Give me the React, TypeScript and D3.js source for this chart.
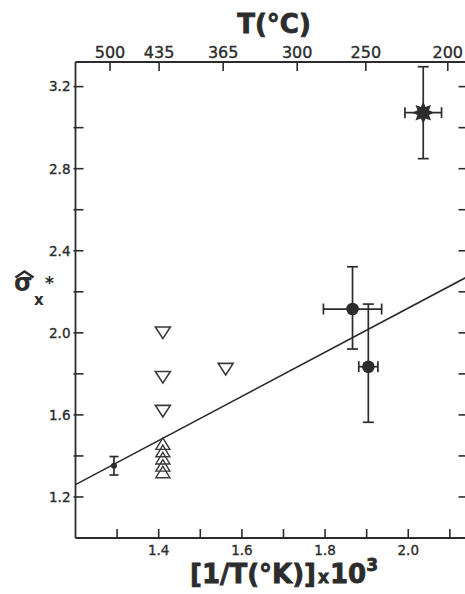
import React from 'react';
import * as d3 from 'd3';

const W = 465;
const H = 594;

// ---- axis ticks ----
const xTicks = [1.3, 1.4, 1.5, 1.6, 1.7, 1.8, 1.9, 2.0, 2.1];
const xLabelTicks = [1.4, 1.6, 1.8, 2.0];
const yTicks = [1.2, 1.4, 1.6, 1.8, 2.0, 2.2, 2.4, 2.6, 2.8, 3.0, 3.2];
const yLabelTicks = [1.2, 1.6, 2.0, 2.4, 2.8, 3.2];
const topTickLabels = ['500', '435', '365', '300', '250', '200'];
const topTickPos = [1.283, 1.401, 1.555, 1.733, 1.898, 2.095];

// ---- data ----
// small dot with vertical error bar
const dotX = [1.2925];
const dotY = [1.352];
const dotYErr = [0.045];

// open down-pointing triangles
const downTriX = [1.41, 1.41, 1.41, 1.561];
const downTriY = [2.0, 1.783, 1.618, 1.823];

// open up-pointing triangles (stacked)
const upTriX = [1.41, 1.41, 1.41, 1.41, 1.41];
const upTriY = [1.46, 1.424, 1.389, 1.354, 1.322];

// filled circles with x & y error bars
const circX = [1.866, 1.904];
const circY = [2.116, 1.835];
const circXErr = [0.07, 0.023];
const circYErrHi = [0.206, 0.305];
const circYErrLo = [0.195, 0.271];

// star with error bars
const starX = [2.036];
const starY = [3.073];
const starXErr = [0.044];
const starYErr = [0.224];

// fitted line
const fitX = [1.2, 2.14];
const fitY = [1.26, 2.271];

const INK = '#2c2c2c';

export default function App() {
  const x = d3.scaleLinear().domain([1.2, 2.14]).range([75.5, 466.5]);
  const y = d3.scaleLinear().domain([1.0, 3.32]).range([538, 62]);
  const [x0, x1] = x.range();
  const [yb, yt] = y.range();

  const fmt = d3.format('.1f');
  const line = d3.line<number>().x((_, i) => x(fitX[i])).y((_, i) => y(fitY[i]));

  const triUp = (cx: number, cy: number) => {
    const hw = 7, hh = 5.8;
    return `M${cx},${cy - hh}L${cx + hw},${cy + hh}L${cx - hw},${cy + hh}Z`;
  };
  const triDown = (cx: number, cy: number) => {
    const hw = 7.5, hh = 5.8;
    return `M${cx - hw},${cy - hh}L${cx + hw},${cy - hh}L${cx},${cy + hh}Z`;
  };
  const starPath = (cx: number, cy: number) => {
    const pts: [number, number][] = [];
    const n = 8, R = 11, r = 6.2;
    for (let i = 0; i < n * 2; i++) {
      const a = (Math.PI * i) / n - Math.PI / 2;
      const rr = i % 2 === 0 ? R : r;
      pts.push([cx + rr * Math.cos(a), cy + rr * Math.sin(a)]);
    }
    return d3.line()(pts) + 'Z';
  };

  const errV = (cx: number, yHi: number, yLo: number, cap: number, key: string) => (
    <g key={key} stroke={INK} strokeWidth={1.7}>
      <line x1={cx} x2={cx} y1={y(yHi)} y2={y(yLo)} />
      <line x1={cx - cap} x2={cx + cap} y1={y(yHi)} y2={y(yHi)} />
      <line x1={cx - cap} x2={cx + cap} y1={y(yLo)} y2={y(yLo)} />
    </g>
  );
  const errH = (cy: number, xLo: number, xHi: number, cap: number, key: string) => (
    <g key={key} stroke={INK} strokeWidth={1.7}>
      <line x1={x(xLo)} x2={x(xHi)} y1={cy} y2={cy} />
      <line x1={x(xLo)} x2={x(xLo)} y1={cy - cap} y2={cy + cap} />
      <line x1={x(xHi)} x2={x(xHi)} y1={cy - cap} y2={cy + cap} />
    </g>
  );

  const tickFont = 'DejaVu Sans, Verdana, sans-serif';

  return (
    <svg
      width={W}
      height={H}
      viewBox={`0 0 ${W} ${H}`}
      style={{ position: 'absolute', left: 0, top: 0, background: '#fff' }}
    >
      <rect x={0} y={0} width={W} height={H} fill="#fff" />

      {/* frame */}
      <g stroke={INK} strokeWidth={1.8} fill="none">
        <line x1={x0} x2={x1} y1={yt} y2={yt} />
        <line x1={x0} x2={x1} y1={yb} y2={yb} />
        <line x1={x0} x2={x0} y1={yt} y2={yb} />
        <line x1={x1} x2={x1} y1={yt} y2={yb} />
      </g>

      {/* ticks */}
      <g stroke={INK} strokeWidth={1.6}>
        {yTicks.map((t) => (
          <line key={'yl' + t} x1={x0 - 2} x2={x0 + 8} y1={y(t)} y2={y(t)} />
        ))}
        {yTicks.map((t) => (
          <line key={'yr' + t} x1={x1 - 8} x2={x1} y1={y(t)} y2={y(t)} />
        ))}
        {xTicks.map((t) => (
          <line key={'xb' + t} x1={x(t)} x2={x(t)} y1={yb} y2={yb - 9} />
        ))}
        {topTickPos.map((t) => (
          <line key={'xt' + t} x1={x(t)} x2={x(t)} y1={yt} y2={yt + 9} />
        ))}
      </g>

      {/* tick labels */}
      <g fill={INK} stroke={INK} strokeWidth={0.35} fontFamily={tickFont} fontSize={13.5}>
        {yLabelTicks.map((t) => (
          <text key={'ylab' + t} x={x0 - 5} y={y(t)} dy="0.36em" textAnchor="end">
            {fmt(t)}
          </text>
        ))}
        {xLabelTicks.map((t) => (
          <text key={'xlab' + t} x={x(t)} y={555} textAnchor="middle">
            {fmt(t)}
          </text>
        ))}
      </g>
      <g fill={INK} stroke={INK} strokeWidth={0.35} fontFamily={tickFont} fontSize={16}>
        {topTickPos.map((t, i) => (
          <text key={'tlab' + t} x={x(t)} y={58} textAnchor="middle">
            {topTickLabels[i]}
          </text>
        ))}
      </g>

      {/* fitted line */}
      <path d={line(fitX) || ''} fill="none" stroke={INK} strokeWidth={1.6} />

      {/* small dot */}
      {dotX.map((v, i) => (
        <g key={'dot' + i}>
          {errV(x(v), dotY[i] + dotYErr[i], dotY[i] - dotYErr[i], 4.5, 'dv' + i)}
          <circle cx={x(v)} cy={y(dotY[i])} r={3} fill={INK} />
        </g>
      ))}

      {/* down triangles */}
      {downTriX.map((v, i) => (
        <path
          key={'dt' + i}
          d={triDown(x(v), y(downTriY[i]))}
          fill="#fff"
          stroke="#3a3a3a"
          strokeWidth={1.6}
        />
      ))}

      {/* up triangles */}
      {upTriX.map((v, i) => (
        <path
          key={'ut' + i}
          d={triUp(x(v), y(upTriY[i]))}
          fill="none"
          stroke="#3a3a3a"
          strokeWidth={1.4}
        />
      ))}

      {/* filled circles with error bars */}
      {circX.map((v, i) => (
        <g key={'c' + i}>
          {errV(x(v), circY[i] + circYErrHi[i], circY[i] - circYErrLo[i], 5.5, 'cv' + i)}
          {errH(y(circY[i]), v - circXErr[i], v + circXErr[i], 5.5, 'ch' + i)}
          <circle cx={x(v)} cy={y(circY[i])} r={6.3} fill={INK} />
        </g>
      ))}

      {/* star */}
      {starX.map((v, i) => (
        <g key={'s' + i}>
          {errV(x(v), starY[i] + starYErr[i], starY[i] - starYErr[i], 5.5, 'sv' + i)}
          {errH(y(starY[i]), v - starXErr[i], v + starXErr[i], 5.5, 'sh' + i)}
          <path d={starPath(x(v), y(starY[i]))} fill={INK} />
        </g>
      ))}

      {/* axis titles */}
      <text
        x={274}
        y={33}
        textAnchor="middle"
        fontFamily="DejaVu Sans, sans-serif"
        fontWeight="bold"
        fontSize={26}
        fill={INK}
        stroke={INK}
        strokeWidth={0.8}
      >
        T(°C)
      </text>

      <text
        x={190}
        y={583}
        fontFamily="DejaVu Sans, sans-serif"
        fontWeight="bold"
        fontSize={26}
        fill={INK}
        stroke={INK}
        strokeWidth={0.8}
      >
        [1/T(°K)]
        <tspan fontSize={17} dx={2}>x</tspan>
        <tspan dx={1}>10</tspan>
        <tspan fontSize={17} dy={-12}>3</tspan>
      </text>

      {/* y title: sigma-hat sub x sup * */}
      <path d="M15.5,277.5L24.5,271.5L33.5,277.5" fill="none" stroke={INK} strokeWidth={2.6} />
      <text
        x={14}
        y={291}
        fontFamily="DejaVu Sans, sans-serif"
        fontWeight="bold"
        fontSize={24}
        fill={INK}
      >
        σ
      </text>
      <text
        x={34}
        y={305}
        fontFamily="DejaVu Sans, sans-serif"
        fontWeight="bold"
        fontSize={15}
        fill={INK}
      >
        x
      </text>
      <text
        x={45}
        y={289}
        fontFamily="DejaVu Sans, sans-serif"
        fontWeight="bold"
        fontSize={17}
        fill={INK}
      >
        *
      </text>
    </svg>
  );
}
